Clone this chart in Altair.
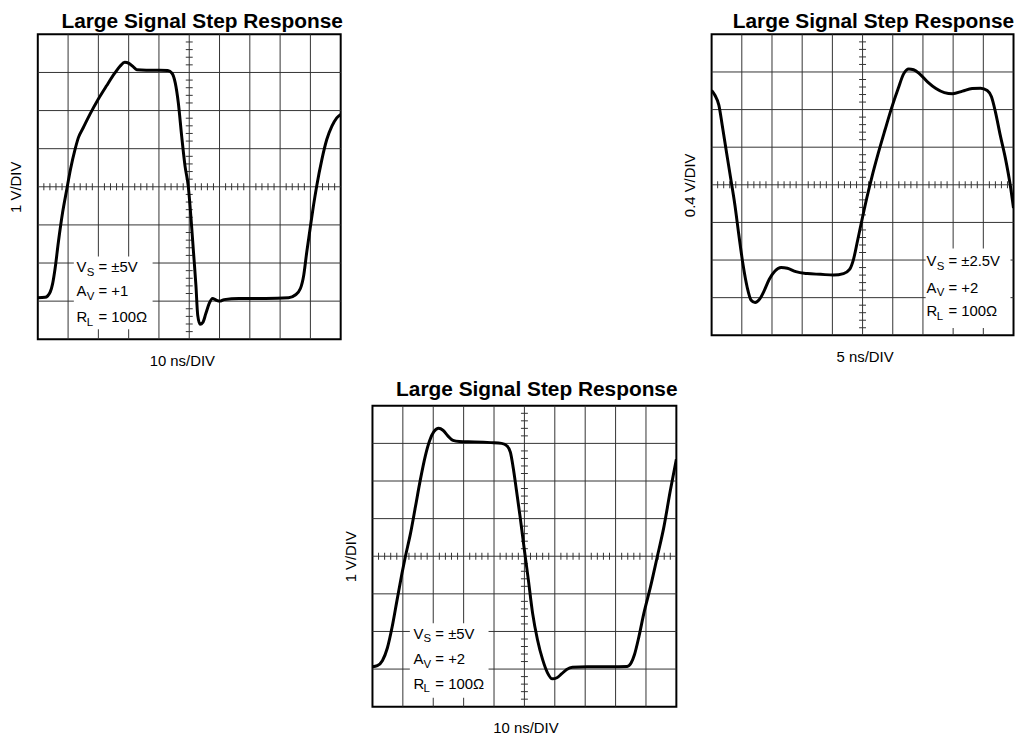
import altair as alt
import pandas as pd

# ---------------- data (divisions on a 10 x 8 scope graticule) ----------------
P1_T = [0.00, 0.24, 0.41, 0.49, 0.57, 0.68, 0.82, 0.95, 1.08, 1.23, 1.34, 1.50, 1.72,
        1.99, 2.27, 2.54, 2.72, 2.87, 3.01, 3.14, 3.27, 3.58, 4.02, 4.29, 4.43, 4.54,
        4.64, 4.75, 4.86, 4.97, 5.06, 5.14, 5.22, 5.28, 5.36, 5.45, 5.55, 5.66, 5.77,
        5.88, 6.01, 6.15, 6.64, 7.52, 8.28, 8.50, 8.67, 8.78, 8.88, 8.99, 9.10, 9.21,
        9.38, 9.54, 9.71, 9.87, 10.00]
P1_V = [-2.91, -2.90, -2.76, -2.54, -2.15, -1.45, -0.67, -0.10, 0.46, 0.98, 1.29, 1.55,
        1.90, 2.29, 2.65, 2.98, 3.17, 3.27, 3.24, 3.16, 3.07, 3.06, 3.06, 3.05, 2.98,
        2.72, 2.20, 1.33, 0.55, 0.00, -0.84, -1.71, -2.58, -3.37, -3.61, -3.56, -3.32,
        -3.06, -2.93, -2.97, -3.00, -2.96, -2.93, -2.93, -2.91, -2.84, -2.67, -2.32,
        -1.71, -1.10, -0.50, 0.03, 0.72, 1.24, 1.59, 1.81, 1.90]

P2_T = [0.00, 0.11, 0.24, 0.35, 0.49, 0.63, 0.77, 0.90, 1.04, 1.18, 1.31, 1.44, 1.59,
        1.75, 1.91, 2.10, 2.30, 2.51, 2.79, 3.17, 3.61, 4.04, 4.37, 4.57, 4.70, 4.83,
        4.97, 5.14, 5.30, 5.52, 5.74, 5.96, 6.18, 6.36, 6.53, 6.69, 6.89, 7.16, 7.43,
        7.71, 7.98, 8.31, 8.63, 8.91, 9.13, 9.27, 9.40, 9.56, 9.73, 9.89, 10.00]
P2_V = [2.51, 2.38, 2.12, 1.59, 0.88, 0.18, -0.53, -1.32, -2.12, -2.73, -3.07, -3.13,
        -3.04, -2.80, -2.51, -2.29, -2.20, -2.22, -2.31, -2.36, -2.38, -2.40, -2.36,
        -2.25, -1.98, -1.50, -0.97, -0.35, 0.18, 0.84, 1.45, 2.04, 2.56, 2.95, 3.08,
        3.06, 2.95, 2.73, 2.56, 2.45, 2.42, 2.49, 2.56, 2.57, 2.51, 2.34, 1.94, 1.32,
        0.71, 0.00, -0.62]

P3_T = [0.00, 0.16, 0.33, 0.49, 0.65, 0.81, 0.97, 1.08, 1.25, 1.41, 1.57, 1.74, 1.88,
        2.02, 2.18, 2.32, 2.48, 2.65, 2.86, 3.36, 3.90, 4.25, 4.43, 4.54, 4.63, 4.74,
        4.86, 5.00, 5.13, 5.27, 5.43, 5.60, 5.76, 5.92, 6.07, 6.22, 6.39, 6.58, 7.07,
        7.84, 8.38, 8.51, 8.62, 8.77, 8.93, 9.15, 9.37, 9.59, 9.80, 10.00]
P3_V = [-2.94, -2.91, -2.77, -2.44, -1.87, -1.16, -0.46, -0.02, 0.60, 1.30, 2.01, 2.67,
        3.07, 3.31, 3.40, 3.35, 3.20, 3.08, 3.05, 3.04, 3.02, 3.00, 2.93, 2.76, 2.36,
        1.74, 1.04, 0.16, -0.63, -1.52, -2.22, -2.75, -3.10, -3.26, -3.23, -3.13, -3.01,
        -2.95, -2.94, -2.94, -2.93, -2.84, -2.62, -2.13, -1.52, -0.81, -0.02, 0.78,
        1.74, 2.58]

TITLE = "Large Signal Step Response"
P1_YLABEL, P1_XLABEL = "1 V/DIV", "10 ns/DIV"
P2_YLABEL, P2_XLABEL = "0.4 V/DIV", "5 ns/DIV"
P3_YLABEL, P3_XLABEL = "1 V/DIV", "10 ns/DIV"

NOTE_MAIN = ["V", "A", "R"]
NOTE_SUB = ["S", "V", "L"]
P1_NOTE_REST = ["= ±5V", "= +1", "= 100Ω"]
P2_NOTE_REST = ["= ±2.5V", "= +2", "= 100Ω"]
P3_NOTE_REST = ["= ±5V", "= +2", "= 100Ω"]

# graticule
MAJOR_X = list(range(1, 10))
MAJOR_Y = list(range(-3, 4))
MINOR_X = [round(i * 0.2, 1) for i in range(1, 50) if i % 5 != 0]
MINOR_Y = [round(-4 + i * 0.2, 1) for i in range(1, 40) if i % 5 != 0]

# ---------------- styling / layout ----------------
FONT = "Liberation Sans"
GRID = "#333333"


def panel(t, v, ylab, xlab, w, h, box, note_x, note_y, rest, xt_dx, title_dx, title_off):
    xsc = alt.Scale(domain=[0, 10], nice=False, zero=False)
    ysc = alt.Scale(domain=[-4, 4], nice=False, zero=False)
    xax = alt.Axis(grid=False, labels=False, ticks=False, domain=False, title=xlab,
                   titleFont=FONT, titleFontSize=15, titleFontWeight="normal",
                   titleColor="black", titlePadding=14, titleX=w / 2 + xt_dx)
    yax = alt.Axis(grid=False, labels=False, ticks=False, domain=False, title=ylab,
                   titleFont=FONT, titleFontSize=15, titleFontWeight="normal",
                   titleColor="black", titlePadding=14)

    def X(f):
        return alt.X(f, scale=xsc, axis=xax)

    def Y(f):
        return alt.Y(f, scale=ysc, axis=yax)

    gx = alt.Chart(pd.DataFrame({"g": MAJOR_X})).mark_rule(
        color=GRID, strokeWidth=1).encode(x=X("g:Q"))
    gy = alt.Chart(pd.DataFrame({"g": MAJOR_Y})).mark_rule(
        color=GRID, strokeWidth=1).encode(y=Y("g:Q"))

    boxdf = pd.DataFrame({"x0": [box[0]], "x1": [box[1]], "y0": [box[2]], "y1": [box[3]]})
    box_layer = alt.Chart(boxdf).mark_rect(fill="white").encode(
        x=X("x0:Q"), x2="x1:Q", y=Y("y0:Q"), y2="y1:Q")

    mxdf = pd.DataFrame({"m": MINOR_X, "c": [0] * len(MINOR_X)})
    ticks_h = alt.Chart(mxdf).mark_tick(
        orient="vertical", size=7, thickness=1, color=GRID, opacity=1).encode(
        x=X("m:Q"), y=Y("c:Q"))
    mydf = pd.DataFrame({"m": MINOR_Y, "c": [5] * len(MINOR_Y)})
    ticks_v = alt.Chart(mydf).mark_tick(
        orient="horizontal", size=7, thickness=1, color=GRID, opacity=1).encode(
        x=X("c:Q"), y=Y("m:Q"))

    curve = alt.Chart(pd.DataFrame({"t": t, "v": v})).mark_line(
        color="black", strokeWidth=3, interpolate="monotone", clip=True).encode(
        x=X("t:Q"), y=Y("v:Q"))

    notes = pd.DataFrame({"x": [note_x] * 3, "y": note_y, "main": NOTE_MAIN,
                          "sub": NOTE_SUB, "rest": rest})
    nb = alt.Chart(notes).encode(x=X("x:Q"), y=Y("y:Q"))
    t_main = nb.mark_text(align="left", baseline="alphabetic", font=FONT, fontSize=15,
                          color="black").encode(text="main:N")
    t_sub = nb.mark_text(align="left", baseline="alphabetic", font=FONT, fontSize=11.5,
                         color="black", dx=10.2, dy=3.5).encode(text="sub:N")
    t_rest = nb.mark_text(align="left", baseline="alphabetic", font=FONT, fontSize=15,
                          color="black", dx=22).encode(text="rest:N")

    return alt.layer(gx, gy, box_layer, ticks_h, ticks_v, curve, t_main, t_sub, t_rest
                     ).properties(
        width=w, height=h,
        title=alt.TitleParams(text=TITLE, font=FONT, fontSize=21, fontWeight="bold",
                              color="black", anchor="middle", dx=title_dx,
                              offset=title_off))


p1 = panel(P1_T, P1_V, P1_YLABEL, P1_XLABEL, 305, 307,
           (1.19, 3.79, -1.83, -3.74), 1.28, [-2.24, -2.87, -3.55], P1_NOTE_REST,
           -7.5, 13, 1.5)
p2 = panel(P2_T, P2_V, P2_YLABEL, P2_XLABEL, 304, 303,
           (7.09, 9.90, -1.69, -3.81), 7.12, [-2.17, -2.87, -3.49], P2_NOTE_REST,
           2, 11, 1.5)
p3 = panel(P3_T, P3_V, P3_YLABEL, P3_XLABEL, 306, 303,
           (1.23, 3.82, -1.785, -3.76), 1.35, [-2.19, -2.87, -3.52], P3_NOTE_REST,
           1, 12.5, 5)

spacer = alt.Chart(pd.DataFrame({"a": [0]})).mark_point(opacity=0).encode(
    x=alt.X("a:Q", axis=None), y=alt.Y("a:Q", axis=None)).properties(
    width=317, height=10, view=alt.ViewBackground(strokeOpacity=0))

top = alt.hconcat(p1, p2, spacing=373.5, bounds="flush")
bottom = alt.hconcat(spacer, p3, spacing=20, bounds="flush")
chart = alt.vconcat(top, bottom, spacing=9).properties(
    padding=0, background="white"
).configure_view(stroke="black", strokeWidth=2)

chart.save("out.html", embed_options={"renderer": "svg", "actions": False})
